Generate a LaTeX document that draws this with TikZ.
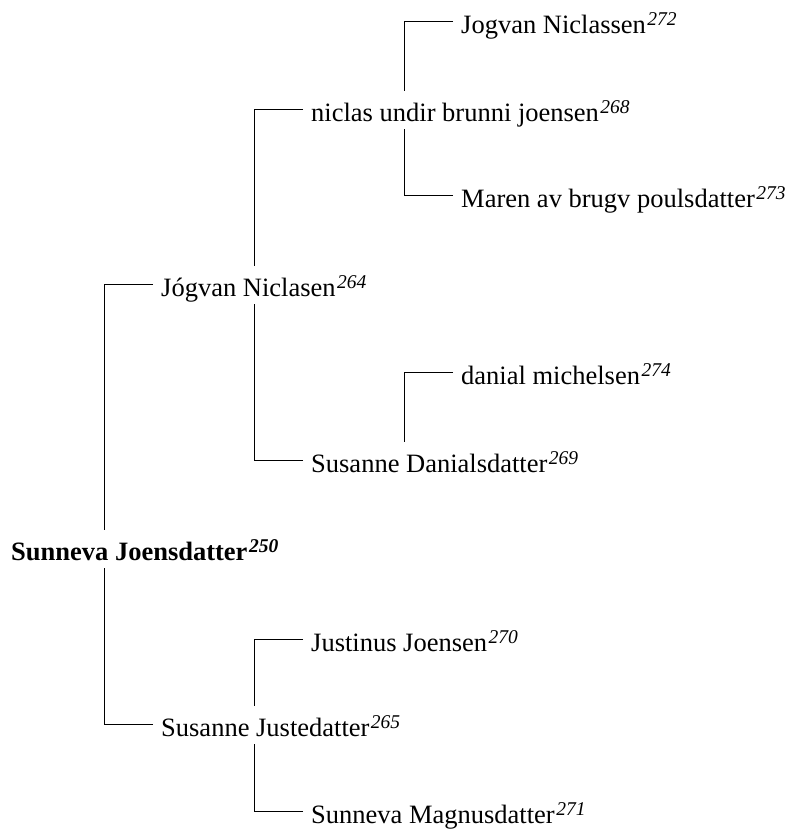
\documentclass[tikz,border=0pt]{standalone}
\usepackage{fontspec}
\setmainfont{Liberation Serif}
\newcommand{\gnum}[1]{\kern1.5pt\raisebox{8.5pt}{\fontsize{19.5}{21}\selectfont\itshape #1}}
\tikzset{
  person/.style={anchor=west, inner xsep=8pt, inner ysep=0pt, text height=31pt, text depth=7pt, font=\fontsize{26.5}{30}\selectfont},
  link/.style={line width=1pt, draw=black}
}
\begin{document}
\begin{tikzpicture}[x=1pt,y=1pt]
\useasboundingbox (0,0) rectangle (793,834);
\node[person] (root) at (3,285) {\textbf{Sunneva Joensdatter\gnum{250}}};
\node[person] (jn) at (153,549) {Jógvan Niclasen\gnum{264}};
\node[person] (sj) at (153,109) {Susanne Justedatter\gnum{265}};
\node[person] (nu) at (303,724) {niclas undir brunni joensen\gnum{268}};
\node[person] (sd) at (303,373) {Susanne Danialsdatter\gnum{269}};
\node[person] (ju) at (303,194) {Justinus Joensen\gnum{270}};
\node[person] (sm) at (303,22) {Sunneva Magnusdatter\gnum{271}};
\node[person] (jg) at (453,812) {Jogvan Niclassen\gnum{272}};
\node[person] (mp) at (453,638) {Maren av brugv poulsdatter\gnum{273}};
\node[person] (dm) at (453,461) {danial michelsen\gnum{274}};
\draw[link] (jn.west) -- ++(-49,0) coordinate (a1) -- (a1 |- root.north);
\draw[link] (sj.west) -- ++(-49,0) coordinate (a2) -- (a2 |- root.south);
\draw[link] (nu.west) -- ++(-49,0) coordinate (b1) -- (b1 |- jn.north);
\draw[link] (sd.west) -- ++(-49,0) coordinate (b2) -- (b2 |- jn.south);
\draw[link] (ju.west) -- ++(-49,0) coordinate (b3) -- (b3 |- sj.north);
\draw[link] (sm.west) -- ++(-49,0) coordinate (b4) -- (b4 |- sj.south);
\draw[link] (jg.west) -- ++(-49,0) coordinate (c1) -- (c1 |- nu.north);
\draw[link] (mp.west) -- ++(-49,0) coordinate (c2) -- (c2 |- nu.south);
\draw[link] (dm.west) -- ++(-49,0) coordinate (c3) -- (c3 |- sd.north);
\end{tikzpicture}
\end{document}
